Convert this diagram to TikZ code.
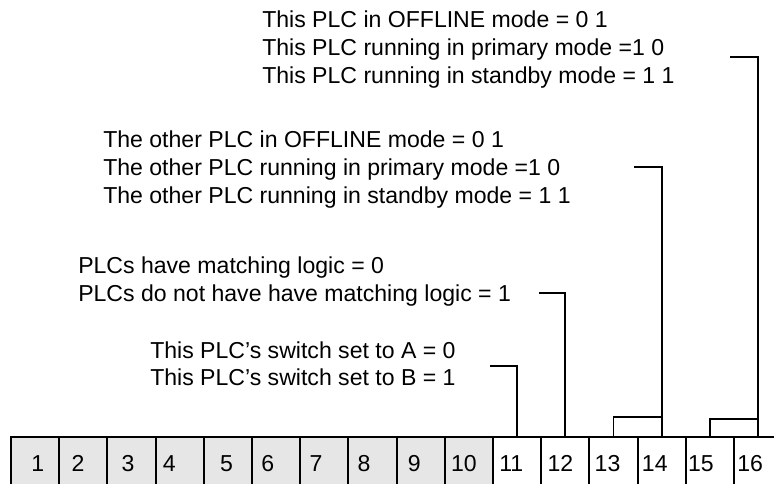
\documentclass[tikz,border=0pt]{standalone}
\usepackage{fontspec}
\setmainfont{Liberation Sans}
\usetikzlibrary{calc, positioning}

\definecolor{cellgray}{RGB}{230,230,230}

\begin{document}
\begin{tikzpicture}[x=0.75pt, y=-0.75pt,
  every node/.style={font=\fontsize{17.3}{20}\selectfont},
  bitcell/.style={draw, line width=1.4pt, minimum width=36.15pt, minimum height=39pt, inner sep=0pt},
  wire/.style={line width=1.4pt},
  note/.style={anchor=base west, inner sep=0pt}]
  \useasboundingbox (0,0) rectangle (774,483);
  \clip (0,0) rectangle (774,483);
  % status word, one cell per bit
  \foreach \i/\o/\f in {1/21/cellgray, 2/13/cellgray, 3/15/cellgray, 4/8/cellgray,
                        5/17/cellgray, 6/10/cellgray, 7/10/cellgray, 8/10/cellgray,
                        9/12/cellgray, 10/7/cellgray, 11/7/white, 12/7/white,
                        13/6/white, 14/5/white, 15/3/white, 16/4/white} {
    \pgfmathsetmacro\cx{11+48.2*(\i-1)+24.1}
    \node[bitcell, fill=\f] (c\i) at (\cx,463) {};
    \node[note] (n\i) at ($(c\i.west)+(\o,8)$) {\i};
  }
  % bits 15-16
  \node[note] (a1) at (262,27) {This PLC in OFFLINE mode = 0 1};
  \node[note] (a2) at (262,55) {This PLC running in primary mode =1 0};
  \node[note] (a3) at (262,83) {This PLC running in standby mode = 1 1};
  % bits 13-14
  \node[note] (b1) at (103,147) {The other PLC in OFFLINE mode = 0 1};
  \node[note] (b2) at (103,175) {The other PLC running in primary mode =1 0};
  \node[note] (b3) at (103,203) {The other PLC running in standby mode = 1 1};
  % bit 12
  \node[note] (m1) at (78,273) {PLCs have matching logic = 0};
  \node[note] (m2) at (78,301) {PLCs do not have have matching logic = 1};
  % bit 11
  \node[note] (s1) at (150,358) {This PLC's switch set to A = 0};
  \node[note] (s2) at (150,385) {This PLC's switch set to B = 1};
  % leaders
  \coordinate (kA) at (730,57);
  \coordinate (kB) at (634,167);
  \coordinate (kC) at (539,293);
  \coordinate (kD) at (490,366);
  \draw[wire] (kA) -| (c16.north);
  \draw[wire] (kB) -| (c14.north);
  \draw[wire] (kC) -| (c12.north);
  \draw[wire] (kD) -| (c11.north);
  \draw[wire] (c15.north) -- ++(0,-17) -| (c16.north);
  \draw[wire] (c13.north) -- ++(0,-19) -| (c14.north);
\end{tikzpicture}
\end{document}
